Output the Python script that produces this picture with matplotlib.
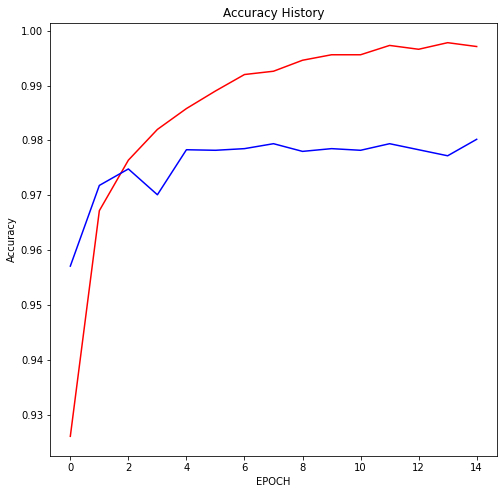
import matplotlib
matplotlib.use("Agg")
import matplotlib.pyplot as plt

epochs = list(range(15))
train_acc = [0.9261, 0.9672, 0.9764, 0.9820, 0.9858, 0.9890, 0.9920, 0.9926, 0.9946,
             0.9956, 0.9956, 0.9973, 0.9966, 0.9978, 0.9971]
val_acc = [0.9571, 0.9718, 0.9748, 0.9701, 0.9783, 0.9782, 0.9785, 0.9794, 0.9780,
           0.9785, 0.9782, 0.9794, 0.9783, 0.9772, 0.9802]

W, H = 504, 496
fig = plt.figure(figsize=(W / 72, H / 72), dpi=72)
ax = fig.add_axes([50 / W, 1 - 456 / H, (497 - 50) / W, (456 - 23) / H])
ax.plot(epochs, train_acc, color="red")
ax.plot(epochs, val_acc, color="blue")
ax.set_title("Accuracy History")
ax.set_xlabel("EPOCH")
ax.set_ylabel("Accuracy")
fig.savefig("out.png", dpi=72, facecolor="white")
